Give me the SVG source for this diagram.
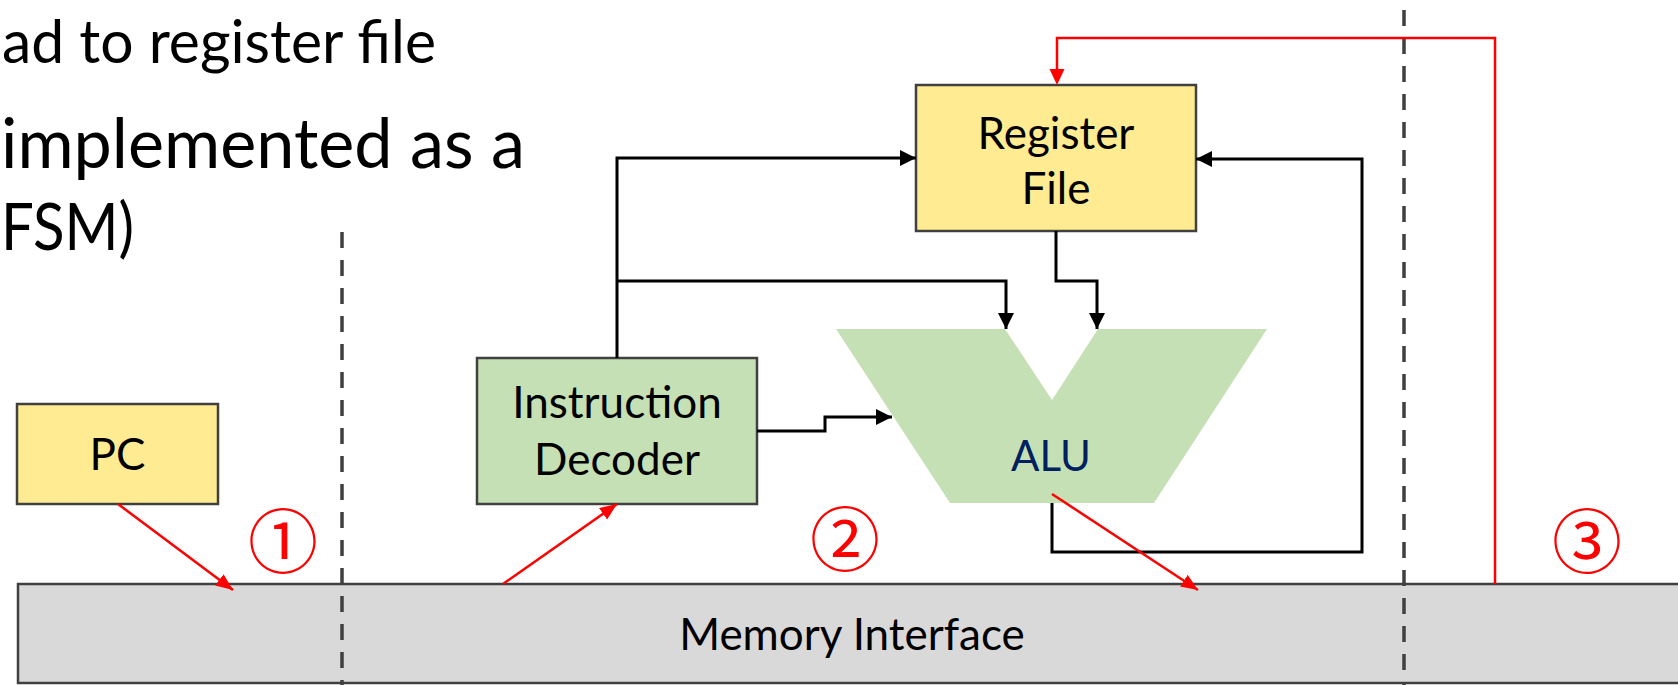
<svg xmlns="http://www.w3.org/2000/svg" width="1678" height="685" viewBox="0 0 1678 685">
  <defs>
    <style>
      .box { stroke: #404040; stroke-width: 2.5; }
      .yellow { fill: #FFEB91; }
      .green { fill: #C5E0B4; }
      .grey { fill: #D9D9D9; }
      .label { font-family: Lato, "Liberation Sans", sans-serif; font-size: 44px; fill: #000; text-anchor: middle; }
      .heading { font-family: Lato, "Liberation Sans", sans-serif; fill: #000; }
      .wire { fill: none; stroke: #000; stroke-width: 3; }
      .flow { fill: none; stroke: #F00; stroke-width: 2.5; }
      .divider { fill: none; stroke: #404040; stroke-width: 3.5; stroke-dasharray: 16 12; }
      .step { font-family: "Noto Sans CJK JP", "DejaVu Sans", sans-serif; font-size: 70px; fill: #F00; text-anchor: middle; }
    </style>
    <marker id="arrow-black" markerUnits="userSpaceOnUse" markerWidth="17" markerHeight="17" refX="16" refY="8" orient="auto">
      <path d="M0,0 L16,8 L0,16 Z" fill="#000"/>
    </marker>
    <marker id="arrow-red" markerUnits="userSpaceOnUse" markerWidth="18" markerHeight="16" refX="17" refY="7" orient="auto">
      <path d="M0,0 L17,7 L0,14 Z" fill="#F00"/>
    </marker>
  </defs>

  <rect width="1678" height="685" fill="#fff"/>

  <!-- heading text along the left edge -->
  <g id="heading">
    <text class="heading" x="2" y="63" font-size="60" textLength="434" lengthAdjust="spacingAndGlyphs">ad to register file</text>
    <text class="heading" x="1" y="168" font-size="70" textLength="524" lengthAdjust="spacingAndGlyphs">implemented as a</text>
    <text class="heading" x="1" y="250" font-size="65" textLength="133" lengthAdjust="spacingAndGlyphs">FSM)</text>
  </g>

  <!-- memory interface bar -->
  <g id="node-memory">
    <rect class="box grey" x="18" y="584" width="1675" height="99"/>
    <text class="label" x="852" y="650">Memory Interface</text>
  </g>

  <!-- stage dividers -->
  <g id="dividers">
    <line class="divider" x1="342" y1="232" x2="342" y2="690"/>
    <line class="divider" x1="1404" y1="10" x2="1404" y2="690"/>
  </g>

  <g id="node-pc">
    <rect class="box yellow" x="17" y="404" width="201" height="100"/>
    <text class="label" x="117.5" y="470">PC</text>
  </g>

  <g id="node-decoder">
    <rect class="box green" x="477" y="358" width="280" height="146"/>
    <text class="label" x="617" y="418">Instruction</text>
    <text class="label" x="617" y="475">Decoder</text>
  </g>

  <g id="node-regfile">
    <rect class="box yellow" x="916" y="85" width="280" height="146"/>
    <text class="label" x="1056" y="149">Register</text>
    <text class="label" x="1056" y="204">File</text>
  </g>

  <g id="node-alu">
    <polygon class="green" points="836,329 1005,329 1052,400 1098,329 1267,329 1154,503 950,503"/>
    <text class="label" x="1051" y="471" style="fill:#002060;font-size:42px">ALU</text>
  </g>

  <!-- datapath wires and memory access steps -->
  <g id="connectors">
    <polyline class="wire" points="617,358 617,158 916,158" marker-end="url(#arrow-black)"/>
    <polyline class="wire" points="617,281 1006,281 1006,329" marker-end="url(#arrow-black)"/>
    <polyline class="wire" points="1056,231 1056,281 1097,281 1097,329" marker-end="url(#arrow-black)"/>
    <polyline class="wire" points="757,431 825,431 825,417 892,417" marker-end="url(#arrow-black)"/>
    <polyline class="wire" points="1052,503 1052,552 1362,552 1362,159 1196,159" marker-end="url(#arrow-black)"/>

    <line class="flow" x1="118" y1="504" x2="233" y2="590" marker-end="url(#arrow-red)"/>
    <line class="flow" x1="503" y1="584" x2="617" y2="504" marker-end="url(#arrow-red)"/>
    <line class="flow" x1="1052" y1="494" x2="1198" y2="590" marker-end="url(#arrow-red)"/>
    <polyline class="flow" points="1495,584 1495,38 1057,38 1057,70"/>
    <path d="M1049.5,69 L1064.5,69 L1057,85 Z" fill="#F00"/>
  </g>

  <!-- step numbers -->
  <g id="steps">
    <text class="step" x="283" y="568">①</text>
    <text class="step" x="845" y="566">②</text>
    <text class="step" x="1587" y="568">③</text>
  </g>
</svg>
